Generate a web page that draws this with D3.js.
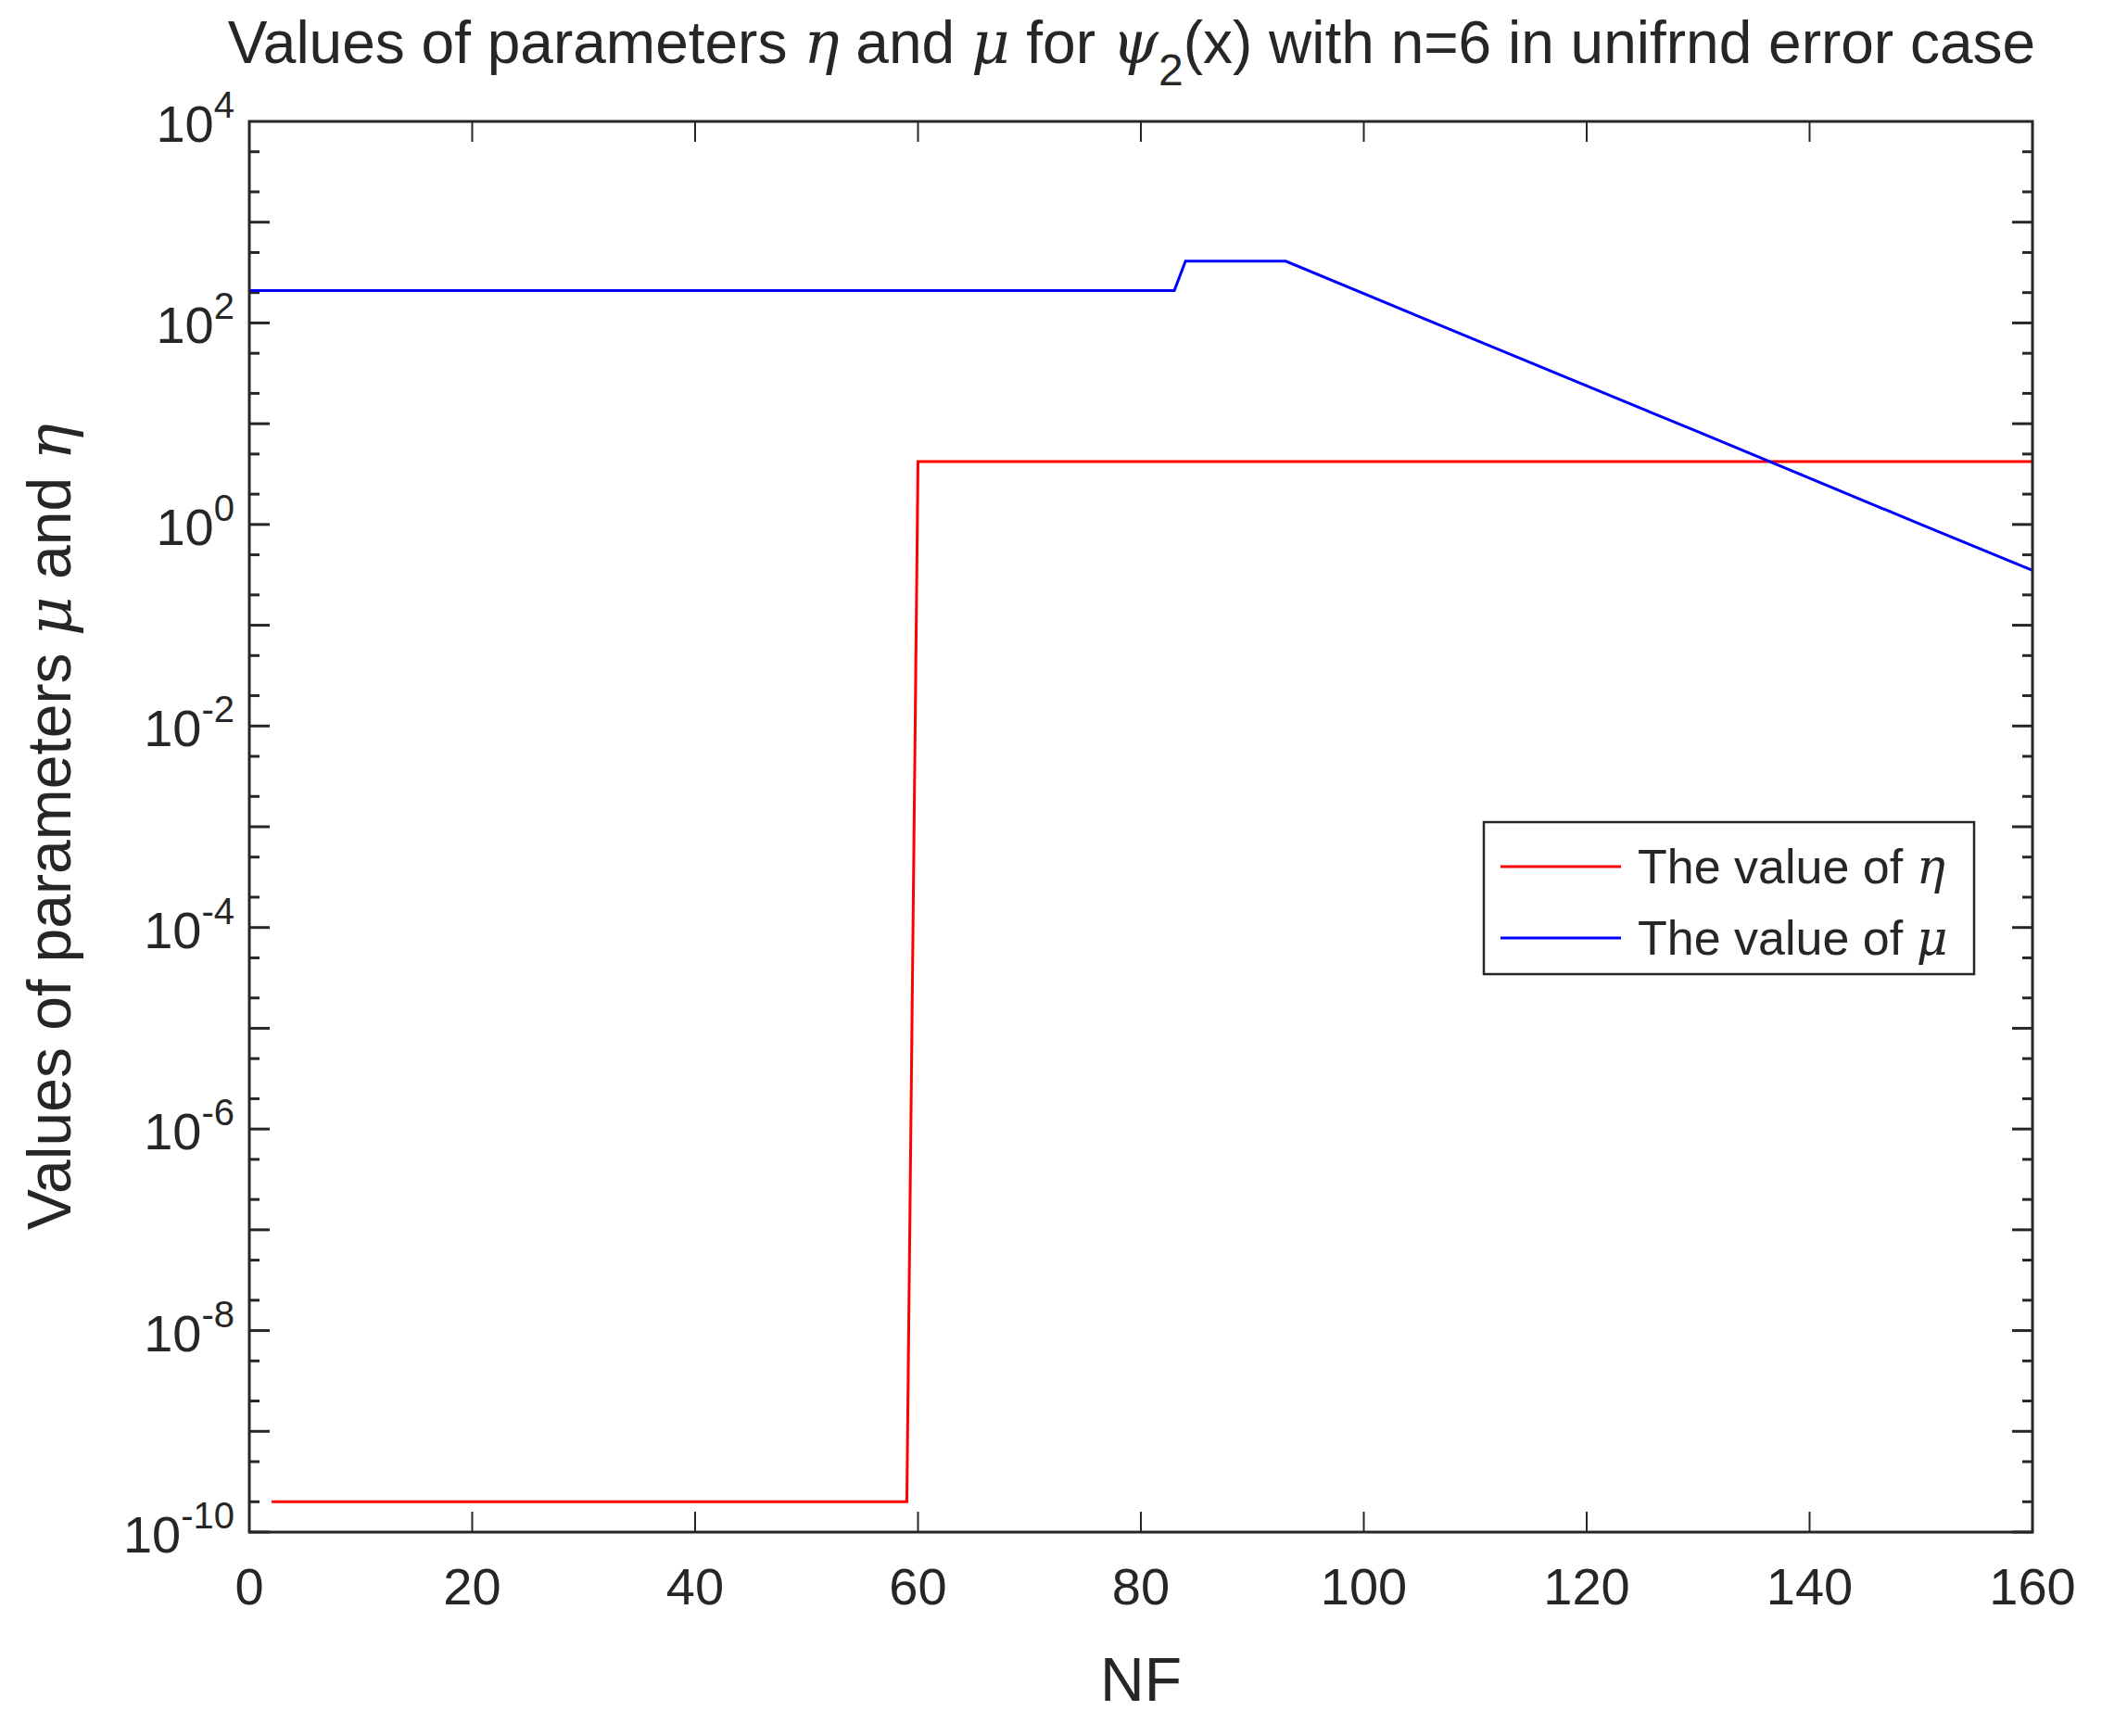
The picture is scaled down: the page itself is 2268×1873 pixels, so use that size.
<!DOCTYPE html>
<html><head><meta charset="utf-8">
<script src="https://cdn.jsdelivr.net/npm/d3@7"></script>
<style>body{margin:0;background:#fff}text{font-family:Arial,"Liberation Sans",sans-serif;fill:#262626}</style>
</head><body><div id="vis"></div>
<script>
const etaX = [2, 59, 60, 160];
const etaY = [2e-10, 2e-10, 4.2, 4.2];
const muX = [0, 83, 84, 93, 110, 130, 150, 160];
const muY = [210, 210, 410, 410, 68, 8.3, 1.0, 0.35];
const xTicks = [0, 20, 40, 60, 80, 100, 120, 140, 160];
const yLabelExp = [-10, -8, -6, -4, -2, 0, 2, 4];

const W = 2268, H = 1873;
const margin = {top: 131, right: 75, bottom: 220, left: 269};
const width = W - margin.left - margin.right;
const height = H - margin.top - margin.bottom;

const svg = d3.select('#vis').append('svg').attr('width', W).attr('height', H);
const g = svg.append('g').attr('transform', `translate(${margin.left},${margin.top})`);

const x = d3.scaleLinear().domain([0, 160]).range([0, width]);
const y = d3.scaleLog().domain([1e-10, 1e4]).range([height, 0]);

// ticks
const tk = 22, ink = '#262626';
xTicks.forEach(v => {
  g.append('line').attr('x1', x(v)).attr('x2', x(v)).attr('y1', height).attr('y2', height - tk).attr('stroke', ink).attr('stroke-width', 2);
  g.append('line').attr('x1', x(v)).attr('x2', x(v)).attr('y1', 0).attr('y2', tk).attr('stroke', ink).attr('stroke-width', 2);
  g.append('text').attr('x', x(v)).attr('y', height + 78).attr('text-anchor', 'middle').attr('font-size', 56).text(v);
});
for (let e = -10; e < 4; e++) {
  [1, 2, 5].forEach(m => {
    const v = m * Math.pow(10, e);
    const len = m === 1 ? tk : tk / 2;
    [[0, len], [width, width - len]].forEach(([a, b]) =>
      g.append('line').attr('x1', a).attr('x2', b).attr('y1', y(v)).attr('y2', y(v)).attr('stroke', ink).attr('stroke-width', 3));
  });
}
yLabelExp.forEach(e => {
  const t = g.append('text').attr('x', -16).attr('y', y(Math.pow(10, e)) + 22).attr('text-anchor', 'end').attr('font-size', 56);
  t.append('tspan').text('10');
  t.append('tspan').attr('dy', -26).attr('font-size', 40).text(e);
});

// lines
const line = d3.line().x(d => x(d[0])).y(d => y(d[1]));
g.append('path').datum(etaX.map((v, i) => [v, etaY[i]])).attr('d', line).attr('fill', 'none').attr('stroke', '#ff0000').attr('stroke-width', 3);
g.append('path').datum(muX.map((v, i) => [v, muY[i]])).attr('d', line).attr('fill', 'none').attr('stroke', '#0000ff').attr('stroke-width', 3);

g.append('rect').attr('width', width).attr('height', height).attr('fill', 'none').attr('stroke', ink).attr('stroke-width', 3);

// legend
const lg = svg.append('g').attr('transform', 'translate(1601,887)');
lg.append('rect').attr('width', 529).attr('height', 164).attr('fill', '#fff').attr('stroke', ink).attr('stroke-width', 2.5);
[['η', '#ff0000'], ['μ', '#0000ff']].forEach(([s, c], i) => {
  const yy = 48 + i * 77;
  lg.append('line').attr('x1', 18).attr('x2', 148).attr('y1', yy).attr('y2', yy).attr('stroke', c).attr('stroke-width', 3);
  const t = lg.append('text').attr('x', 166).attr('y', yy + 18).attr('font-size', 52).attr('fill', '#000');
  t.append('tspan').text('The value of ');
  t.append('tspan').attr('font-style', 'italic').attr('font-family', 'DejaVu Serif, serif').text(s);
});

// title
const tt = svg.append('text').attr('x', 1221).attr('y', 68).attr('text-anchor', 'middle').attr('font-size', 64).attr('fill', '#000');
tt.append('tspan').text('Values of parameters  ');
tt.append('tspan').attr('font-style', 'italic').attr('font-family', 'DejaVu Serif, serif').text('η');
tt.append('tspan').text(' and  ');
tt.append('tspan').attr('font-style', 'italic').attr('font-family', 'DejaVu Serif, serif').text('μ');
tt.append('tspan').text(' for ');
tt.append('tspan').attr('font-style', 'italic').attr('font-family', 'DejaVu Serif, serif').text('ψ');
tt.append('tspan').attr('dy', 24).attr('font-size', 48).text('2');
tt.append('tspan').attr('dy', -24).text('(x) with n=6 in unifrnd error case');

svg.append('text').attr('x', margin.left + width / 2).attr('y', 1835).attr('text-anchor', 'middle').attr('font-size', 66).text('NF');

const yl = svg.append('text').attr('transform', `translate(76,${margin.top + height / 2}) rotate(-90)`).attr('text-anchor', 'middle').attr('font-size', 66);
yl.append('tspan').text('Values of parameters  ');
yl.append('tspan').attr('font-style', 'italic').attr('font-family', 'DejaVu Serif, serif').text('μ');
yl.append('tspan').text(' and  ');
yl.append('tspan').attr('font-style', 'italic').attr('font-family', 'DejaVu Serif, serif').text('η');
</script></body></html>
